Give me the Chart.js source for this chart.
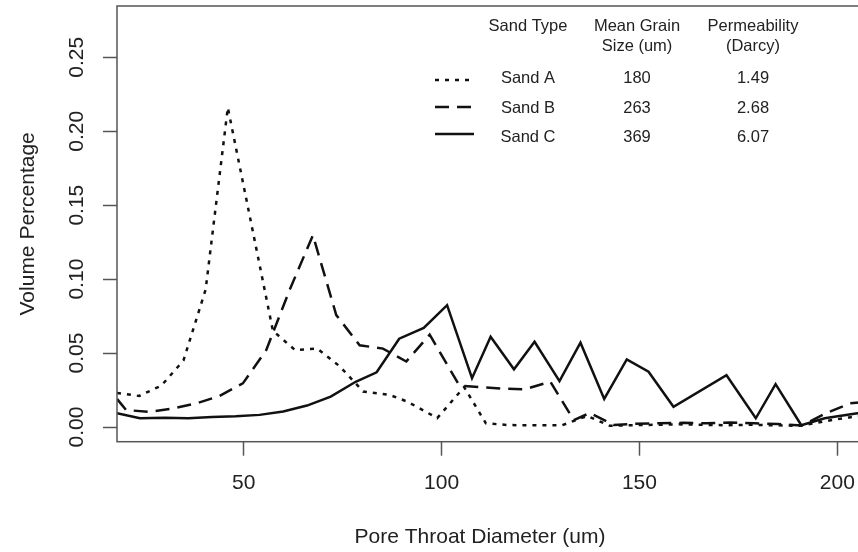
<!DOCTYPE html>
<html>
<head>
<meta charset="utf-8">
<script src="https://cdn.jsdelivr.net/npm/chart.js@4.4.0/dist/chart.umd.min.js"></script>
<style>
  html, body { margin: 0; padding: 0; background: #fff; overflow: hidden; }
  #wrap { width: 870px; height: 552px; }
</style>
</head>
<body>
<div id="wrap"><canvas id="poreChart" width="870" height="552"></canvas></div>
<script>
// Pore throat size distribution for three sands

// Sand A (dotted)
const sandAX = [18, 23.6, 29.2, 34.8, 40.4, 46, 57.4, 63, 68.6, 74.3, 80.2, 87, 91.5, 98.9, 105.7, 111.2, 117, 123, 130.5, 136.8, 142.5, 148, 154, 160, 166, 172, 178, 184, 190.5, 197, 203, 205.5];
const sandAY = [0.023, 0.021, 0.028, 0.045, 0.093, 0.216, 0.065, 0.052, 0.053, 0.041, 0.024, 0.0216, 0.017, 0.006, 0.027, 0.0025, 0.0013, 0.0012, 0.0012, 0.0075, 0.0008, 0.0012, 0.0015, 0.0018, 0.0015, 0.0012, 0.0015, 0.0012, 0.0008, 0.004, 0.0065, 0.0072];

// Sand B (dashed)
const sandBX = [18, 20.3, 26.2, 32.1, 38, 43.9, 49.8, 55.7, 61.6, 67.5, 73.4, 79.3, 85.2, 91.1, 97, 104.5, 110, 115, 121, 127.5, 133.4, 137.5, 143.5, 149, 155, 161, 167, 173, 179, 185, 191, 197.3, 203.2, 205.5];
const sandBY = [0.019, 0.0115, 0.0102, 0.0125, 0.0159, 0.021, 0.0295, 0.052, 0.0926, 0.1297, 0.0757, 0.0553, 0.053, 0.0443, 0.0624, 0.028, 0.027, 0.026, 0.0255, 0.0306, 0.0047, 0.0095, 0.0014, 0.0022, 0.0025, 0.0028, 0.0025, 0.003, 0.0025, 0.002, 0.001, 0.0095, 0.016, 0.0165];

// Sand C (solid)
const sandCX = [18, 23.8, 30, 36, 42, 48, 54, 60, 66, 72, 78.3, 83.6, 89.3, 95.5, 101.4, 107.7, 112.4, 118.3, 123.5, 129.8, 135.1, 141.1, 146.8, 152.3, 158.6, 172, 179.4, 184.4, 190.9, 196.8, 205.5];
const sandCY = [0.0093, 0.006, 0.0062, 0.006, 0.0067, 0.0072, 0.0082, 0.0105, 0.0145, 0.0205, 0.0306, 0.037, 0.0597, 0.067, 0.0824, 0.033, 0.061, 0.039, 0.0576, 0.031, 0.057, 0.019, 0.0457, 0.0374, 0.0137, 0.035, 0.0059, 0.029, 0.0012, 0.0059, 0.0095];

const xTicks = [50, 100, 150, 200];
const yTicks = [0, 0.05, 0.1, 0.15, 0.2, 0.25];
const yTickLabels = ['0.00', '0.05', '0.10', '0.15', '0.20', '0.25'];

// legend table
const tableHeaders = [['Sand Type'], ['Mean Grain', 'Size (um)'], ['Permeability', '(Darcy)']];
const sandNames = ['Sand A', 'Sand B', 'Sand C'];
const grainSizes = ['180', '263', '369'];
const permeabilities = ['1.49', '2.68', '6.07'];

const ink = '#111';
const textColor = '#222';
const axisColor = '#555';
const fontFamily = '"Liberation Sans", Arial, Helvetica, sans-serif';
const dashes = [[4, 6], [14, 8], []];

function toPoints(xs, ys) {
  return xs.map((x, i) => ({ x: x, y: ys[i] }));
}

const frameAndText = {
  id: 'frameAndText',
  afterDraw(chart) {
    const { ctx, chartArea: a } = chart;
    const y = chart.scales.y;
    ctx.save();

    // plot box
    ctx.strokeStyle = axisColor;
    ctx.lineWidth = 1.5;
    ctx.setLineDash([]);
    ctx.strokeRect(a.left, a.top, a.right - a.left, a.bottom - a.top);

    // y tick labels, rotated like R
    ctx.fillStyle = textColor;
    ctx.font = '21px ' + fontFamily;
    ctx.textAlign = 'center';
    ctx.textBaseline = 'middle';
    yTicks.forEach((v, i) => {
      ctx.save();
      ctx.translate(77, y.getPixelForValue(v));
      ctx.rotate(-Math.PI / 2);
      ctx.fillText(yTickLabels[i], 0, 0);
      ctx.restore();
    });

    // axis titles
    ctx.save();
    ctx.translate(28, (a.top + a.bottom) / 2);
    ctx.rotate(-Math.PI / 2);
    ctx.fillText('Volume Percentage', 0, 0);
    ctx.restore();
    ctx.fillText('Pore Throat Diameter (um)', 480, 537);

    // legend table
    ctx.font = '16.5px ' + fontFamily;
    const colX = [528, 637, 753];
    tableHeaders.forEach((lines, c) => {
      lines.forEach((t, k) => ctx.fillText(t, colX[c], 26 + k * 20));
    });
    const rowY = [78, 108, 137];
    const sampleY = [80, 107, 134];
    sandNames.forEach((name, r) => {
      ctx.fillText(name, colX[0], rowY[r]);
      ctx.fillText(grainSizes[r], colX[1], rowY[r]);
      ctx.fillText(permeabilities[r], colX[2], rowY[r]);
      ctx.strokeStyle = ink;
      ctx.lineWidth = 2.5;
      ctx.lineCap = 'butt';
      ctx.setLineDash(dashes[r]);
      ctx.beginPath();
      ctx.moveTo(435, sampleY[r]);
      ctx.lineTo(474, sampleY[r]);
      ctx.stroke();
    });
    ctx.restore();
  }
};

function makeSet(label, xs, ys, dash) {
  return {
    label: label,
    data: toPoints(xs, ys),
    borderColor: ink,
    borderWidth: 2.5,
    borderDash: dash,
    borderCapStyle: 'butt',
    pointRadius: 0,
    tension: 0,
    fill: false
  };
}

const tickGrid = {
  display: true,
  drawOnChartArea: false,
  drawTicks: true,
  tickLength: 14,
  tickColor: axisColor,
  tickWidth: 1.5
};

new Chart(document.getElementById('poreChart'), {
  type: 'line',
  data: {
    datasets: [
      makeSet('Sand A', sandAX, sandAY, dashes[0]),
      makeSet('Sand B', sandBX, sandBY, dashes[1]),
      makeSet('Sand C', sandCX, sandCY, dashes[2])
    ]
  },
  options: {
    responsive: false,
    animation: false,
    devicePixelRatio: 1,
    layout: { padding: { top: 6, right: 4, left: 0, bottom: 0 } },
    plugins: { legend: { display: false }, tooltip: { enabled: false } },
    scales: {
      x: {
        type: 'linear',
        min: 18,
        max: 207,
        afterBuildTicks: s => { s.ticks = xTicks.map(v => ({ value: v })); },
        afterFit: s => { s.height = 110.3; },
        grid: tickGrid,
        border: { display: false },
        ticks: {
          color: textColor,
          font: { family: fontFamily, size: 21 },
          padding: 15,
          maxRotation: 0,
          callback: v => String(v)
        }
      },
      y: {
        type: 'linear',
        min: -0.00994,
        max: 0.2847,
        afterBuildTicks: s => { s.ticks = yTicks.map(v => ({ value: v })); },
        afterFit: s => { s.width = 117; },
        grid: tickGrid,
        border: { display: false },
        ticks: { display: false }
      }
    }
  },
  plugins: [frameAndText]
});
</script>
</body>
</html>
